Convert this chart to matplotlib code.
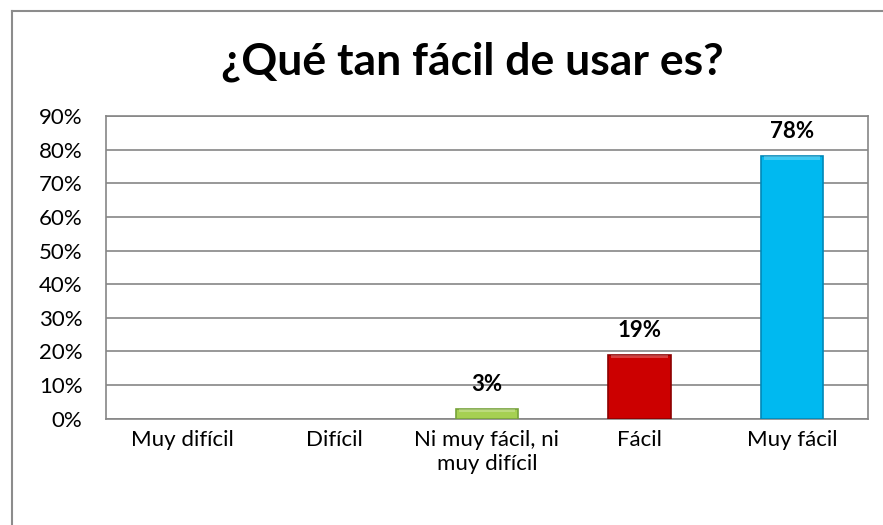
import numpy as np
import matplotlib.pyplot as plt
from matplotlib.lines import Line2D

plt.rcParams['font.family'] = ['Lato', 'DejaVu Sans']

# data
categories = ['Muy difícil', 'Difícil', 'Ni muy fácil, ni\nmuy difícil', 'Fácil', 'Muy fácil']
values = [0, 0, 3, 19, 78]
bar_colors = ['#9BBB59', '#9BBB59', '#A6D052', '#CC0000', '#00B9F0']
edge_colors = ['#76A23A', '#76A23A', '#76A23A', '#8C0000', '#0088B8']
yticks = np.arange(0, 91, 10)

fig = plt.figure(figsize=(8.83, 5.25), dpi=100)
ax = fig.add_axes([0.12, 0.2025, 0.863, 0.5765])

x = np.arange(len(categories))
lw = [1.2 if v > 0 else 0 for v in values]
bars = ax.bar(x, values, width=0.41, color=bar_colors, edgecolor=edge_colors,
              linewidth=lw, zorder=3)

# light bevel on top of each bar
for xi, v in zip(x, values):
    if v > 0:
        h = min(1.0, v * 0.3)
        ax.bar(xi, h, bottom=v - h, width=0.37, color='white', alpha=0.25,
               linewidth=0, zorder=4)

# value labels (skip zeros)
for bar, v in zip(bars, values):
    if v > 0:
        ax.annotate(f'{v}%', xy=(bar.get_x() + bar.get_width() / 2, v),
                    xytext=(0, 10), textcoords='offset points',
                    ha='center', va='bottom', fontsize=16, fontweight='bold')

ax.set_ylim(0, 90)
ax.set_xlim(-0.5, len(categories) - 0.5)
ax.set_yticks(yticks)
ax.set_yticklabels([f'{t}%' for t in yticks], fontsize=16)
ax.set_xticks(x)
ax.set_xticklabels(categories, fontsize=16, linespacing=1.25)
ax.tick_params(axis='y', length=0, pad=17)
ax.tick_params(axis='x', length=0, pad=8)
ax.yaxis.grid(True, color='#868686', linewidth=1.2, zorder=0)
ax.set_axisbelow(True)
for s in ax.spines.values():
    s.set_color('#868686')
    s.set_linewidth(1.2)

fig.text(0.535, 0.882, '¿Qué tan fácil de usar es?', ha='center', va='center',
         fontsize=32, fontweight='bold')

# outer chart border (left and top visible)
fig.add_artist(Line2D([12 / 883, 12 / 883], [0, 1 - 11 / 525], color='#8C8C8C',
                      linewidth=1.5, transform=fig.transFigure))
fig.add_artist(Line2D([12 / 883, 1], [1 - 11 / 525, 1 - 11 / 525], color='#8C8C8C',
                      linewidth=1.5, transform=fig.transFigure))

fig.savefig('out.png', dpi=100, facecolor='white')
